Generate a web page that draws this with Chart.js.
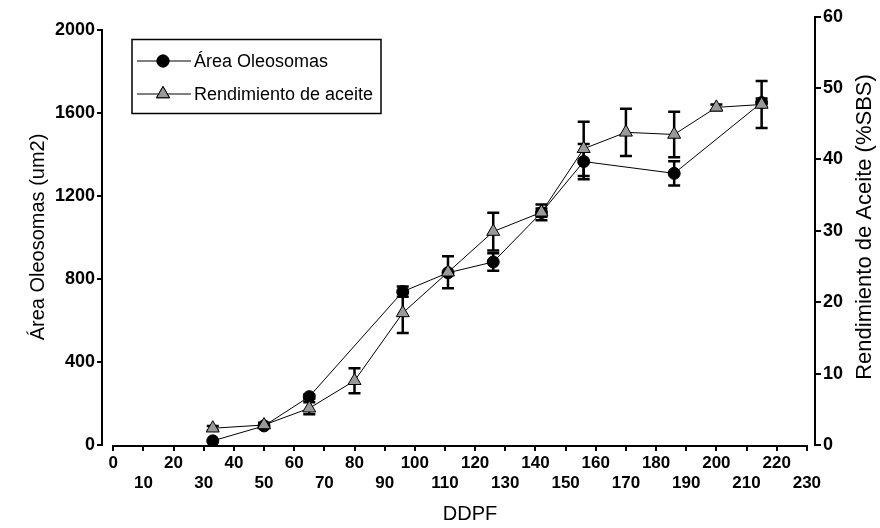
<!DOCTYPE html>
<html><head><meta charset="utf-8">
<script src="https://cdn.jsdelivr.net/npm/chart.js@4.4.1/dist/chart.umd.min.js"></script>
<style>html,body{margin:0;padding:0;background:#fff}#wrap{width:880px;height:528px;position:relative}</style>
</head><body><div id="wrap"><canvas id="c" width="880" height="528"></canvas></div>
<script>
// ---- data ----
const ddpfArea = [33, 50, 65, 96, 111, 126, 142, 156, 186, 215];
const areaOleosomas = [20, 92, 233, 739, 830, 882, 1120, 1366, 1309, 1650];
const areaError = [0, 0, 10, 25, 0, 42, 20, 85, 58, 20];
const ddpfOil = [33, 50, 65, 80, 96, 111, 126, 142, 156, 170, 186, 200, 215];
const rendimiento = [2.35, 2.8, 5.15, 9.0, 18.5, 24.2, 29.9, 32.6, 41.5, 43.8, 43.5, 47.3, 47.7];
const rendError = [0.3, 0.3, 0.85, 1.75, 2.8, 2.25, 2.65, 1.1, 3.8, 3.3, 3.2, 0.4, 3.3];
const xTicks = [0,10,20,30,40,50,60,70,80,90,100,110,120,130,140,150,160,170,180,190,200,210,220,230];
const leftTicks = [0, 400, 800, 1200, 1600, 2000];
const rightTicks = [0, 10, 20, 30, 40, 50, 60];
const seriesNames = ['Área Oleosomas', 'Rendimiento de aceite'];
const xTitle = 'DDPF';
const leftTitle = 'Área Oleosomas (um2)';
const rightTitle = 'Rendimiento de Aceite (%SBS)';

const FONT = "'Liberation Sans', Arial, Helvetica, sans-serif";
const NARROW = "'Liberation Sans Narrow', 'Liberation Sans', Arial, sans-serif";

const errorBars = {
  id: 'errorBars',
  beforeDatasetsDraw(chart) {
    const ctx = chart.ctx;
    ctx.save();
    ctx.strokeStyle = '#000';
    ctx.lineWidth = 2.5;
    chart.data.datasets.forEach((ds, i) => {
      const meta = chart.getDatasetMeta(i);
      const ys = chart.scales[ds.yAxisID];
      ds.errors.forEach((e, j) => {
        if (!e) return;
        const pt = meta.data[j];
        const v = ds.data[j].y;
        const t = ys.getPixelForValue(v + e), b = ys.getPixelForValue(v - e);
        const x = pt.x, w = 6;
        ctx.beginPath();
        ctx.moveTo(x, t); ctx.lineTo(x, b);
        ctx.moveTo(x - w, t); ctx.lineTo(x + w, t);
        ctx.moveTo(x - w, b); ctx.lineTo(x + w, b);
        ctx.stroke();
      });
    });
    ctx.restore();
  }
};

const decor = {
  id: 'decor',
  afterDraw(chart) {
    const ctx = chart.ctx;
    const xs = chart.scales.x, yl = chart.scales.yL, ca = chart.chartArea;
    ctx.save();
    ctx.strokeStyle = '#000'; ctx.lineWidth = 2;
    // x axis line
    ctx.beginPath();
    ctx.moveTo(xs.getPixelForValue(xTicks[0]) - 1, ca.bottom + 1);
    ctx.lineTo(xs.getPixelForValue(xTicks[xTicks.length - 1]) + 1, ca.bottom + 1);
    ctx.stroke();
    // left axis line (only over its tick range)
    ctx.beginPath();
    ctx.moveTo(ca.left - 1, yl.getPixelForValue(leftTicks[0]) + 1);
    ctx.lineTo(ca.left - 1, yl.getPixelForValue(leftTicks[leftTicks.length - 1]) - 1);
    ctx.stroke();
    // titles
    ctx.fillStyle = '#000';
    ctx.textAlign = 'center'; ctx.textBaseline = 'middle';
    ctx.font = '20px ' + FONT;
    ctx.fillText(xTitle, 470, 514);
    ctx.save(); ctx.translate(38, 237); ctx.rotate(-Math.PI / 2); ctx.fillText(leftTitle, 0, 0); ctx.restore();
    ctx.font = '22px ' + FONT;
    ctx.save(); ctx.translate(865, 227); ctx.rotate(-Math.PI / 2); ctx.fillText(rightTitle, 0, 0); ctx.restore();
    // legend
    ctx.lineWidth = 1.5;
    ctx.strokeRect(132, 39.5, 249, 74);
    const items = [
      {y: 61, style: 'circle', r: 6, fill: '#000'},
      {y: 94, style: 'triangle', r: 7.5, fill: '#999'}
    ];
    items.forEach((it, k) => {
      ctx.lineWidth = 1; ctx.strokeStyle = '#000';
      ctx.beginPath(); ctx.moveTo(137, it.y); ctx.lineTo(191, it.y); ctx.stroke();
      ctx.fillStyle = it.fill;
      Chart.helpers.drawPoint(ctx, {pointStyle: it.style, radius: it.r, borderWidth: 1, rotation: 0}, 163, it.y);
      ctx.fill(); ctx.stroke();
      ctx.fillStyle = '#000';
      ctx.font = '18px ' + FONT;
      ctx.textAlign = 'left';
      ctx.fillText(seriesNames[k], 194, it.y + 1);
    });
    ctx.restore();
  }
};

const axisCommon = (tickList, font) => ({
  afterBuildTicks(s) { s.ticks = tickList.map(v => ({value: v})); },
  grid: {display: true, drawOnChartArea: false, drawTicks: true, tickLength: 6, color: '#000', lineWidth: 2},
  border: {display: true, color: '#000', width: 2},
  ticks: {color: '#000', font: font, padding: 2, autoSkip: false, maxRotation: 0, callback: v => String(v)}
});

const yL = axisCommon(leftTicks, {family: NARROW, size: 18, weight: 'bold'});
yL.position = 'left'; yL.min = 0; yL.max = 2064; yL.border = {display: false};
yL.afterFit = s => { s.width = 103; };
const yR = axisCommon(rightTicks, {family: NARROW, size: 18, weight: 'bold'});
yR.position = 'right'; yR.min = 0; yR.max = 60; yR.afterFit = s => { s.width = 65; };
const xS = axisCommon(xTicks, {family: FONT, size: 17, weight: 'bold', lineHeight: 1.15});
xS.type = 'linear'; xS.position = 'bottom'; xS.min = -3.4; xS.max = 232.7;
xS.border = {display: false};
xS.ticks.padding = 3;
xS.ticks.callback = (v) => ((v / 10) % 2 === 0 ? [String(v), ''] : ['', String(v)]);
xS.afterFit = s => { s.height = 83; };

new Chart(document.getElementById('c'), {
  type: 'line',
  data: {
    datasets: [
      {
        label: seriesNames[0], yAxisID: 'yL', order: 1,
        data: ddpfArea.map((x, i) => ({x, y: areaOleosomas[i]})),
        errors: areaError,
        borderColor: '#000', borderWidth: 1, backgroundColor: '#000',
        pointStyle: 'circle', pointRadius: 6, pointBorderColor: '#000', pointBackgroundColor: '#000', pointBorderWidth: 1,
        tension: 0, fill: false
      },
      {
        label: seriesNames[1], yAxisID: 'yR', order: 0,
        data: ddpfOil.map((x, i) => ({x, y: rendimiento[i]})),
        errors: rendError,
        borderColor: '#000', borderWidth: 1, backgroundColor: '#999',
        pointStyle: 'triangle', pointRadius: 7.5, pointBorderColor: '#000', pointBackgroundColor: '#999', pointBorderWidth: 1,
        tension: 0, fill: false
      }
    ]
  },
  options: {
    responsive: false, animation: false, devicePixelRatio: 1,
    layout: {padding: {top: 16.7, left: 0, right: 0, bottom: 0}},
    plugins: {legend: {display: false}, tooltip: {enabled: false}},
    scales: {x: xS, yL: yL, yR: yR}
  },
  plugins: [errorBars, decor]
});
</script></body></html>
